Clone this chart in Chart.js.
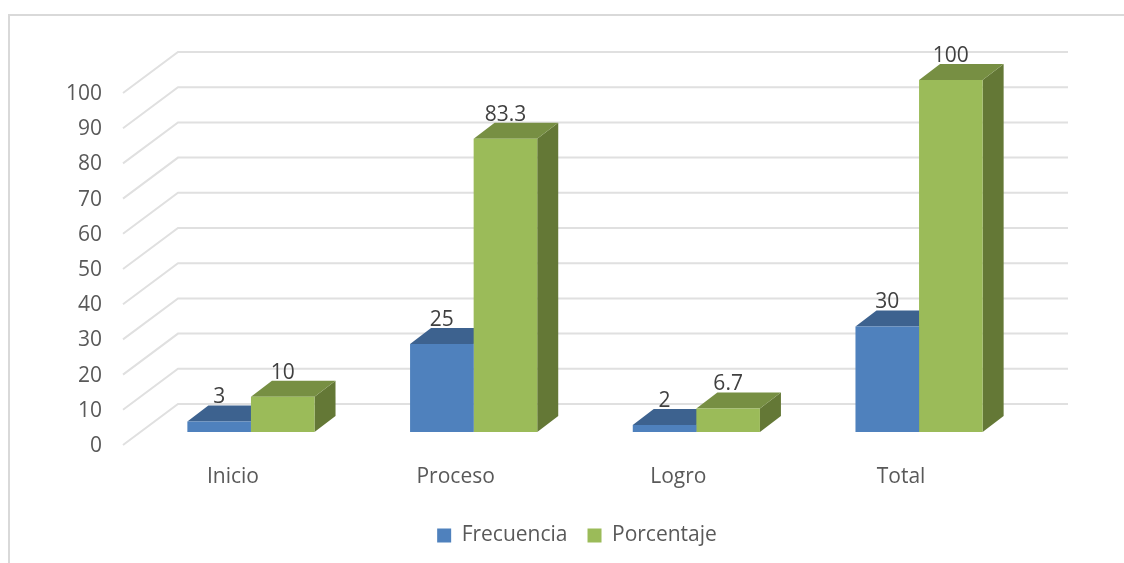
<!DOCTYPE html>
<html lang="es">
<head>
    <meta charset="UTF-8">
    <title>Frecuencia y porcentaje</title>
    <script src="https://cdn.jsdelivr.net/npm/chart.js@4/dist/chart.umd.min.js"></script>
    <style>
        body { margin: 0; background: #fff; }
        .marco { position: absolute; left: 8px; top: 14px; right: 0; bottom: 0; border-top: 2px solid #d9d9d9; border-left: 2px solid #d9d9d9; }
        canvas { position: absolute; left: 0; top: 0; }
    </style>
</head>
<body>
    <div class="marco"></div>
    <canvas id="grafico" width="1124" height="563"></canvas>

    <script>
        const categorias = ['Inicio', 'Proceso', 'Logro', 'Total'];
        const frecuencia = [3, 25, 2, 30];
        const porcentaje = [10, 83.3, 6.7, 100];
        const etiquetasFrecuencia = ['3', '25', '2', '30'];
        const etiquetasPorcentaje = ['10', '83.3', '6.7', '100'];

        const FUENTE = '"Open Sans", sans-serif';
        const caras = [
            { top: '#3d628f', side: '#335379' },
            { top: '#778f43', side: '#647836' }
        ];

        // Caras laterales y superiores de las barras, y la rejilla en perspectiva
        const efecto3d = {
            id: 'efecto3d',
            afterLayout(chart) {
                // la leyenda no va centrada en el lienzo sino un poco a la derecha
                const l = chart.legend;
                const mitad = l.width / 2;
                l.left = 577 - mitad;
                l.right = 577 + mitad;
            },
            beforeDatasetsDraw(chart) {
                const ctx = chart.ctx;
                const y = chart.scales.y;

                ctx.save();
                ctx.strokeStyle = '#e0e0e0';
                ctx.lineWidth = 2;
                y.ticks.forEach(t => {
                    const py = y.getPixelForValue(t.value);
                    ctx.beginPath();
                    ctx.moveTo(123, py + 13);
                    ctx.lineTo(178, py - 28);
                    ctx.lineTo(1068, py - 28);
                    ctx.stroke();
                });

                const dx = 21, dy = 16;
                chart.data.datasets.forEach((ds, i) => {
                    chart.getDatasetMeta(i).data.forEach(bar => {
                        const w = bar.width / 2;
                        const l = bar.x - w, r = bar.x + w;
                        ctx.fillStyle = caras[i].side;
                        ctx.beginPath();
                        ctx.moveTo(r, bar.y);
                        ctx.lineTo(r + dx, bar.y - dy);
                        ctx.lineTo(r + dx, bar.base - dy);
                        ctx.lineTo(r, bar.base);
                        ctx.closePath();
                        ctx.fill();
                        ctx.fillStyle = caras[i].top;
                        ctx.beginPath();
                        ctx.moveTo(l, bar.y);
                        ctx.lineTo(l + dx, bar.y - dy);
                        ctx.lineTo(r + dx, bar.y - dy);
                        ctx.lineTo(r, bar.y);
                        ctx.closePath();
                        ctx.fill();
                    });
                });
                ctx.restore();
            },
            afterDatasetsDraw(chart) {
                const ctx = chart.ctx;
                const textos = [etiquetasFrecuencia, etiquetasPorcentaje];
                ctx.save();
                ctx.font = '21px ' + FUENTE;
                ctx.fillStyle = '#404040';
                ctx.textAlign = 'center';
                ctx.textBaseline = 'middle';
                chart.data.datasets.forEach((ds, i) => {
                    chart.getDatasetMeta(i).data.forEach((bar, j) => {
                        ctx.fillText(textos[i][j], bar.x, bar.y - 24);
                    });
                });
                ctx.restore();
            }
        };

        new Chart(document.getElementById('grafico'), {
            type: 'bar',
            data: {
                labels: categorias,
                datasets: [
                    { label: 'Frecuencia', data: frecuencia, backgroundColor: '#4f81bd', barPercentage: 1, categoryPercentage: 0.571 },
                    { label: 'Porcentaje', data: porcentaje, backgroundColor: '#9bbb59', barPercentage: 1, categoryPercentage: 0.571 }
                ]
            },
            options: {
                responsive: false,
                animation: false,
                layout: { padding: { left: 20, right: 93.6, top: 80, bottom: 7 } },
                scales: {
                    x: {
                        grid: { display: false },
                        border: { display: false },
                        afterFit: s => { s.height = 73; },
                        ticks: {
                            color: '#595959',
                            font: { family: FUENTE, size: 21 },
                            labelOffset: -18,
                            padding: 24,
                            maxRotation: 0
                        }
                    },
                    y: {
                        min: 0,
                        max: 100,
                        grid: { display: false },
                        border: { display: false },
                        afterFit: s => { s.width = 119.6; },
                        ticks: {
                            stepSize: 10,
                            color: '#595959',
                            font: { family: FUENTE, size: 21 },
                            labelOffset: 14,
                            padding: 29.6
                        }
                    }
                },
                plugins: {
                    tooltip: { enabled: false },
                    legend: {
                        position: 'bottom',
                        labels: {
                            color: '#595959',
                            font: { family: FUENTE, size: 21 },
                            boxWidth: 14,
                            boxHeight: 14,
                            padding: 20
                        }
                    }
                }
            },
            plugins: [efecto3d]
        });
    </script>
</body>
</html>
